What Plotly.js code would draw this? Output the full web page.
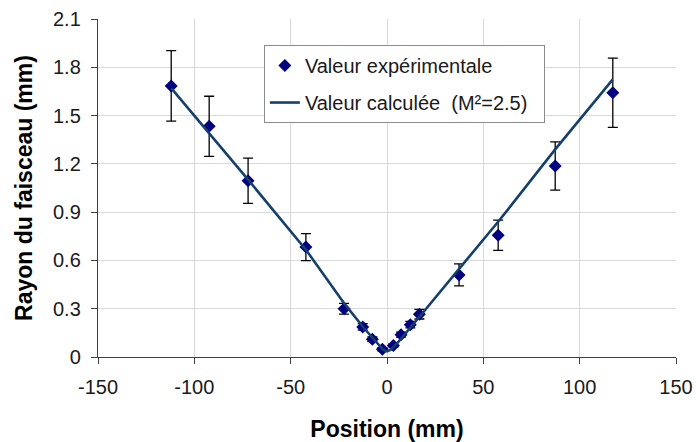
<!DOCTYPE html>
<html>
<head>
<meta charset="utf-8">
<script src="https://cdn.plot.ly/plotly-3.0.1.min.js"></script>
<style>html,body{margin:0;padding:0;background:#fff}#chart{width:696px;height:442px}</style>
</head>
<body>
<div id="chart"></div>
<script>
const posExp = [-112, -92.3, -72.1, -42.1, -22.3, -12.6, -7.6, -2.4, 3.3, 7.3, 12.1, 16.8, 37.4, 57.7, 87.3, 117.2];
const rayExp = [1.684, 1.433, 1.095, 0.683, 0.30, 0.187, 0.11, 0.048, 0.071, 0.139, 0.201, 0.266, 0.51, 0.756, 1.187, 1.642];
const errExp = [0.219, 0.187, 0.141, 0.084, 0.033, 0.02, 0.015, 0.01, 0.01, 0.015, 0.02, 0.03, 0.068, 0.094, 0.15, 0.215];

// Calculated curve
const posCalc = [-112, -92, -72, -42, -22, -12, -6, -2, 0, 2, 6, 12, 20, 40, 57.7, 87.3, 117.2];
const rayCalc = [1.67, 1.385, 1.10, 0.665, 0.33, 0.18, 0.095, 0.045, 0.035, 0.045, 0.095, 0.18, 0.295, 0.585, 0.84, 1.29, 1.725];

const xTicks = [-150, -100, -50, 0, 50, 100, 150];
const yTicks = [0, 0.3, 0.6, 0.9, 1.2, 1.5, 1.8, 2.1];
const yTickText = ['0', '0.3', '0.6', '0.9', '1.2', '1.5', '1.8', '2.1'];

const labels = {
  exp: 'Valeur expérimentale',
  calc: 'Valeur calculée  (M²=2.5)\u00a0\u00a0',
  x: 'Position (mm)',
  y: 'Rayon du faisceau (mm)'
};

const FONT = 'Liberation Sans, Arial, sans-serif';

const traces = [
  {
    x: posExp, y: rayExp, type: 'scatter', mode: 'markers', name: labels.exp,
    legendgroup: 'a',
    marker: {symbol: 'diamond', size: 10, color: '#000080'},
    error_y: {type: 'data', array: errExp, visible: true, color: '#000000', thickness: 1.3, width: 5}
  },
  {
    x: posCalc, y: rayCalc, type: 'scatter', mode: 'lines', name: labels.calc,
    legendgroup: 'b',
    line: {color: '#14406b', width: 2.6}
  }
];

const layout = {
  width: 696, height: 442,
  margin: {l: 98, r: 20, t: 19, b: 85},
  paper_bgcolor: '#ffffff', plot_bgcolor: '#ffffff',
  font: {family: FONT, color: '#1a1a1a', size: 20},
  showlegend: true,
  legend: {
    x: 0.287, y: 0.923, xanchor: 'left', yanchor: 'top',
    bgcolor: '#ffffff', bordercolor: '#8c8c8c', borderwidth: 1,
    font: {family: FONT, size: 20, color: '#1a1a1a'},
    tracegroupgap: 8, traceorder: 'grouped'
  },
  xaxis: {
    range: [-150, 150], tickvals: xTicks, ticktext: xTicks.map(String),
    showgrid: true, gridcolor: '#d9d9d9', gridwidth: 1,
    zeroline: false, showline: true, linecolor: '#404040', linewidth: 1.2,
    ticks: 'outside', ticklen: 6, tickcolor: '#404040',
    ticklabelstandoff: 6,
    tickfont: {family: FONT, size: 20, color: '#1a1a1a'},
    title: {text: labels.x, font: {family: FONT, size: 23, color: '#000', weight: 'bold'}, standoff: 24},
    automargin: false
  },
  yaxis: {
    range: [0, 2.1], tickvals: yTicks, ticktext: yTickText,
    showgrid: true, gridcolor: '#d9d9d9', gridwidth: 1,
    zeroline: false, showline: true, linecolor: '#404040', linewidth: 1.2,
    ticks: 'outside', ticklen: 6, tickcolor: '#404040',
    ticklabelstandoff: 6,
    tickfont: {family: FONT, size: 20, color: '#1a1a1a'},
    title: {text: labels.y, font: {family: FONT, size: 23, color: '#000', weight: 'bold'}, standoff: 14},
    automargin: false
  }
};

Plotly.newPlot('chart', traces, layout, {displayModeBar: false, staticPlot: true});
</script>
</body>
</html>
